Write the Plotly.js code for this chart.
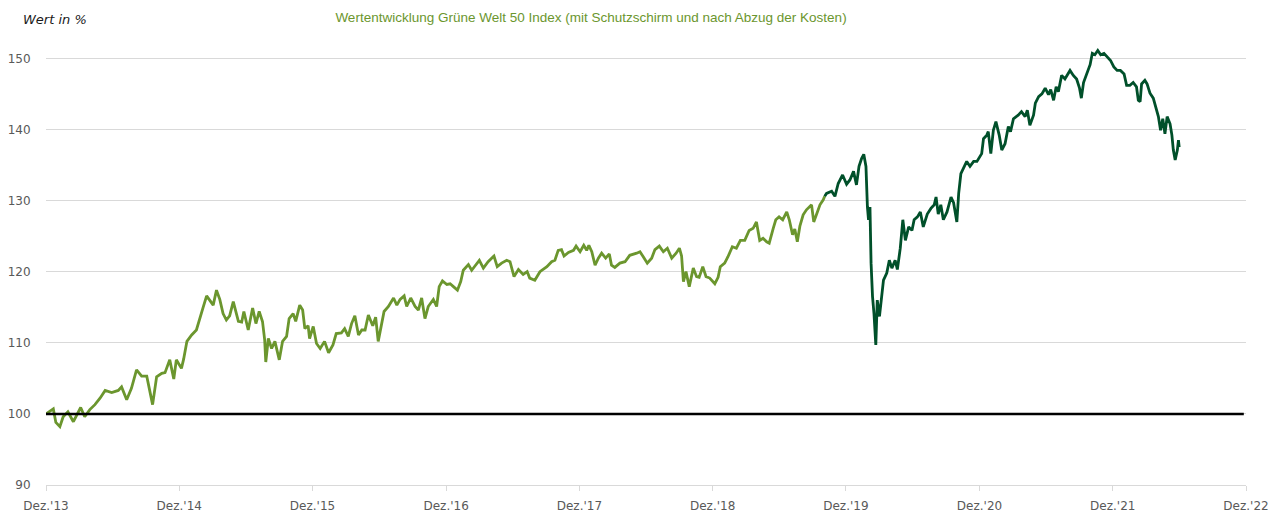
<!DOCTYPE html>
<html>
<head>
<meta charset="utf-8">
<script src="https://cdn.plot.ly/plotly-3.0.1.min.js"></script>
<style>
  html, body { margin: 0; padding: 0; background: #ffffff; }
  #chart { width: 1280px; height: 512px; }
</style>
</head>
<body>
<div id="chart"></div>
<script>
// Phase 1: before the Schutzschirm period (light green)
const phase1Dates = [
 '2013-12-01','2013-12-21','2013-12-28','2014-01-08','2014-01-17','2014-01-30','2014-02-14','2014-02-23','2014-03-06','2014-03-17','2014-03-31',
 '2014-04-14','2014-04-28','2014-05-12','2014-05-30','2014-06-17','2014-06-26','2014-07-10','2014-07-23','2014-08-06','2014-08-20',
 '2014-09-03','2014-09-12','2014-09-19','2014-09-30','2014-10-14','2014-10-23','2014-11-05','2014-11-16','2014-11-23',
 '2014-12-07','2014-12-13','2014-12-22','2015-01-04','2015-01-17','2015-01-26','2015-02-04','2015-02-14','2015-02-23',
 '2015-03-04','2015-03-13','2015-03-22','2015-03-31','2015-04-09','2015-04-18','2015-04-28','2015-05-12','2015-05-21','2015-05-27',
 '2015-06-08','2015-06-20','2015-06-29','2015-07-08','2015-07-17','2015-07-23','2015-07-26','2015-08-02','2015-08-11','2015-08-20',
 '2015-09-01','2015-09-10','2015-09-21','2015-09-28','2015-10-09','2015-10-16','2015-10-27','2015-11-04','2015-11-10','2015-11-19','2015-11-23',
 '2015-12-03','2015-12-12','2015-12-22','2016-01-03','2016-01-14','2016-01-26','2016-02-04','2016-02-18','2016-02-27',
 '2016-03-08','2016-03-17','2016-03-26','2016-04-05','2016-04-14','2016-04-23','2016-05-02','2016-05-14','2016-05-22','2016-05-29',
 '2016-06-08','2016-06-14','2016-06-26','2016-07-10','2016-07-19','2016-07-28','2016-08-08','2016-08-15','2016-08-26',
 '2016-09-07','2016-09-16','2016-09-25','2016-10-04','2016-10-13','2016-10-27','2016-11-05','2016-11-12','2016-11-21',
 '2016-12-03','2016-12-12','2016-12-21','2017-01-01','2017-01-10','2017-01-17','2017-01-31','2017-02-09','2017-02-18',
 '2017-03-02','2017-03-13','2017-03-26','2017-04-11','2017-04-20','2017-05-02','2017-05-16','2017-05-25',
 '2017-06-05','2017-06-17','2017-06-30','2017-07-11','2017-07-18','2017-08-01','2017-08-15',
 '2017-09-03','2017-09-16','2017-09-25','2017-10-04','2017-10-13','2017-10-20','2017-11-01','2017-11-15','2017-11-22',
 '2017-12-03','2017-12-13','2017-12-21','2017-12-27','2018-01-04','2018-01-13','2018-01-22','2018-01-31','2018-02-11','2018-02-21','2018-02-27',
 '2018-03-08','2018-03-22','2018-04-05','2018-04-18','2018-05-07','2018-05-16','2018-05-25','2018-06-05','2018-06-17','2018-06-26',
 '2018-07-08','2018-07-19','2018-07-30','2018-08-11','2018-08-23','2018-09-01','2018-09-07','2018-09-12','2018-09-19','2018-09-28',
 '2018-10-09','2018-10-18','2018-10-25','2018-11-04','2018-11-13','2018-11-23',
 '2018-12-07','2018-12-16','2018-12-22','2019-01-03','2019-01-12','2019-01-24','2019-02-04','2019-02-15','2019-02-27',
 '2019-03-11','2019-03-22','2019-03-31','2019-04-09','2019-04-18','2019-04-28','2019-05-05','2019-05-16','2019-05-23',
 '2019-06-01','2019-06-11','2019-06-22','2019-06-29','2019-07-08','2019-07-14','2019-07-21','2019-07-28',
 '2019-08-06','2019-08-15','2019-08-29','2019-09-04','2019-09-12','2019-09-21','2019-09-30','2019-10-04'
];
const phase1Values = [
 100.0,100.7,98.8,98.2,99.6,100.3,98.9,99.9,100.9,99.6,100.6,
 101.3,102.2,103.3,103.0,103.3,103.8,102.0,103.6,106.2,105.3,
 105.3,102.9,101.3,105.2,105.7,105.8,107.6,104.9,107.6,
 106.4,107.7,110.2,111.1,111.8,113.2,114.9,116.6,116.0,
 115.3,117.4,116.1,114.1,113.2,113.8,115.8,113.0,112.9,114.4,
 111.8,114.9,112.7,114.4,113.0,110.4,107.3,110.6,109.2,110.2,
 107.6,110.2,110.9,113.4,114.1,113.0,115.3,114.6,112.0,112.4,110.6,
 112.3,109.9,109.2,110.2,108.6,109.7,111.3,111.4,112.0,
 110.9,112.7,113.8,111.1,111.8,111.8,113.9,112.4,113.6,110.2,
 113.0,114.4,115.1,116.3,115.3,116.1,116.6,115.1,116.3,
 115.1,114.6,116.3,113.4,115.1,116.1,115.1,117.9,118.7,
 118.2,118.3,117.9,117.4,118.6,120.2,121.0,120.2,120.8,
 121.6,120.5,121.4,122.2,120.7,121.2,121.6,121.4,
 119.3,120.3,119.6,120.0,119.1,118.8,120.0,
 120.7,121.4,121.6,123.0,123.1,122.2,122.7,123.0,123.6,
 122.8,123.7,123.0,123.7,122.8,120.9,121.9,122.6,121.9,122.5,120.9,
 120.6,121.2,121.4,122.3,122.6,122.8,122.1,121.2,121.9,123.1,
 123.6,122.8,123.3,121.9,122.6,123.3,122.2,118.6,120.0,117.9,
 120.5,119.3,119.2,120.7,119.3,119.1,
 118.3,119.2,120.7,121.2,122.1,123.5,123.3,124.4,124.4,
 125.8,126.1,127.0,124.4,124.7,124.2,124.0,126.1,127.3,
 127.7,127.3,128.4,127.3,125.2,126.0,124.2,126.4,
 128.0,128.7,129.4,127.0,128.1,129.4,130.1,130.6
];

// Phase 2: with Schutzschirm (dark green)
const phase2Dates = [
 '2019-10-04','2019-10-09','2019-10-23','2019-11-01','2019-11-10','2019-11-22',
 '2019-12-03','2019-12-12','2019-12-22','2019-12-30','2020-01-06','2020-01-13','2020-01-19','2020-01-25','2020-01-29',
 '2020-02-01','2020-02-05','2020-02-08','2020-02-12','2020-02-16','2020-02-21','2020-02-25','2020-03-02','2020-03-07','2020-03-13',
 '2020-03-22','2020-03-29','2020-04-05','2020-04-14','2020-04-20','2020-04-28','2020-05-05','2020-05-12','2020-05-21','2020-05-30',
 '2020-06-05','2020-06-14','2020-06-22','2020-06-30','2020-07-11','2020-07-21','2020-07-30','2020-08-04','2020-08-10','2020-08-17','2020-08-24',
 '2020-09-03','2020-09-14','2020-09-21','2020-09-30','2020-10-05','2020-10-11','2020-10-20','2020-10-27','2020-11-05','2020-11-15','2020-11-24',
 '2020-12-01','2020-12-07','2020-12-12','2020-12-21','2020-12-25','2021-01-01','2021-01-08','2021-01-15','2021-01-24','2021-01-31',
 '2021-02-09','2021-02-18','2021-02-24','2021-03-04','2021-03-17','2021-03-26','2021-04-05','2021-04-11','2021-04-18','2021-04-28',
 '2021-05-03','2021-05-12','2021-05-21','2021-05-30','2021-06-08','2021-06-14','2021-06-22','2021-06-29','2021-07-05','2021-07-14','2021-07-23',
 '2021-08-06','2021-08-15','2021-08-24','2021-09-01','2021-09-06','2021-09-12','2021-09-21','2021-09-30',
 '2021-10-06','2021-10-13','2021-10-21','2021-10-29','2021-11-07','2021-11-16','2021-11-25',
 '2021-12-04','2021-12-13','2021-12-22','2022-01-01','2022-01-08','2022-01-17','2022-01-26','2022-02-04','2022-02-09','2022-02-14','2022-02-18','2022-02-27',
 '2022-03-05','2022-03-13','2022-03-22','2022-03-29','2022-04-05','2022-04-11','2022-04-17','2022-04-23','2022-04-29',
 '2022-05-07','2022-05-12','2022-05-16','2022-05-21','2022-05-27','2022-05-30','2022-06-01'
];
const phase2Values = [
 130.6,131.0,131.3,130.6,132.4,133.6,
 132.3,132.9,134.1,132.2,134.8,135.9,136.5,134.8,129.1,
 127.3,129.1,121.2,116.5,114.1,109.7,116.0,113.7,116.0,118.8,
 119.8,121.6,120.5,121.6,120.3,123.3,127.3,124.4,126.3,125.8,
 127.3,127.7,128.4,126.3,128.1,128.9,129.4,130.5,128.1,129.4,127.3,
 128.4,130.5,129.7,127.0,131.0,133.8,134.8,135.5,134.8,135.5,135.5,
 136.2,136.6,138.7,139.2,139.7,136.6,139.9,141.1,139.2,137.1,
 138.0,140.4,139.7,141.5,142.0,142.5,141.8,142.7,140.6,142.0,
 143.7,144.6,145.0,145.8,144.9,145.6,144.1,146.0,145.3,147.6,147.1,
 148.3,147.6,147.1,145.8,144.4,146.6,147.9,149.1,
 150.7,150.5,151.1,150.5,150.7,150.2,149.7,
 148.8,148.3,148.3,147.8,146.2,146.2,146.6,146.0,144.1,143.9,146.4,146.9,
 146.4,145.1,144.4,143.0,141.8,139.9,141.5,139.4,141.8,
 140.8,139.2,137.1,135.7,137.1,138.5,137.5
];

// Reference line at 100 %
const baselineDates = ['2013-12-01', '2022-11-25'];
const baselineValues = [100, 100];

// Axis ticks
const xTickDates = ['2013-12-01','2014-12-01','2015-12-01','2016-12-01','2017-12-01','2018-12-01','2019-12-01','2020-12-01','2021-12-01','2022-12-01'];
const xTickLabels = ["Dez.'13","Dez.'14","Dez.'15","Dez.'16","Dez.'17","Dez.'18","Dez.'19","Dez.'20","Dez.'21","Dez.'22"];
const yTickValues = [90, 100, 110, 120, 130, 140, 150];

const titleText = 'Wertentwicklung Grüne Welt 50 Index (mit Schutzschirm und nach Abzug der Kosten)';
const yLabelText = 'Wert in %';

const LIGHT = '#6b962e';
const DARK = '#00502a';
const X_RANGE = ['2013-12-01', '2022-12-01'];
const TICK_FONT = { family: 'DejaVu Sans, Verdana, sans-serif', size: 12, color: '#595959' };

const traces = [
  { x: baselineDates, y: baselineValues, type: 'scatter', mode: 'lines', xaxis: 'x2',
    line: { color: '#000000', width: 2.5 }, hoverinfo: 'skip', showlegend: false },
  { x: phase1Dates, y: phase1Values, type: 'scatter', mode: 'lines',
    line: { color: LIGHT, width: 2.8 }, showlegend: false },
  { x: phase2Dates, y: phase2Values, type: 'scatter', mode: 'lines',
    line: { color: DARK, width: 2.8 }, showlegend: false }
];

const layout = {
  width: 1280, height: 512,
  margin: { l: 46, r: 34, t: 37, b: 27 },
  paper_bgcolor: '#ffffff', plot_bgcolor: '#ffffff',
  showlegend: false,
  title: {
    text: titleText,
    font: { family: 'Liberation Sans, Arial, sans-serif', size: 13.5, color: '#6b962e' },
    x: 591 / 1280, xanchor: 'center', xref: 'container',
    y: 1 - 17 / 512, yanchor: 'middle', yref: 'container'
  },
  xaxis: {
    type: 'date', range: X_RANGE,
    tickvals: xTickDates, ticktext: xTickLabels,
    showgrid: false, zeroline: false,
    showline: true, linecolor: '#d9d9d9', linewidth: 1,
    ticks: 'outside', ticklen: 10, tickcolor: 'rgba(0,0,0,0)',
    tickfont: TICK_FONT, fixedrange: true
  },
  xaxis2: {
    type: 'date', range: X_RANGE, overlaying: 'x', anchor: 'y', side: 'bottom',
    tickvals: xTickDates, showticklabels: false,
    showgrid: false, zeroline: false, showline: false,
    ticks: 'outside', ticklen: 5, tickcolor: '#d9d9d9', tickwidth: 1,
    fixedrange: true
  },
  yaxis: {
    range: [90, 153],
    tickvals: yTickValues,
    showgrid: true, gridcolor: '#d9d9d9', gridwidth: 1,
    zeroline: false, showline: false,
    ticks: 'outside', ticklen: 12, tickcolor: 'rgba(0,0,0,0)',
    tickfont: TICK_FONT, fixedrange: true
  },
  annotations: [{
    text: yLabelText, showarrow: false,
    xref: 'paper', yref: 'paper',
    x: -25 / 1200, y: 1 + 17 / 448, xanchor: 'left', yanchor: 'middle',
    font: { family: 'DejaVu Sans, Verdana, sans-serif', size: 13, color: '#1a1a1a', style: 'italic' }
  }],
  hovermode: false
};

Plotly.newPlot('chart', traces, layout, { displayModeBar: false, staticPlot: true });
</script>
</body>
</html>
